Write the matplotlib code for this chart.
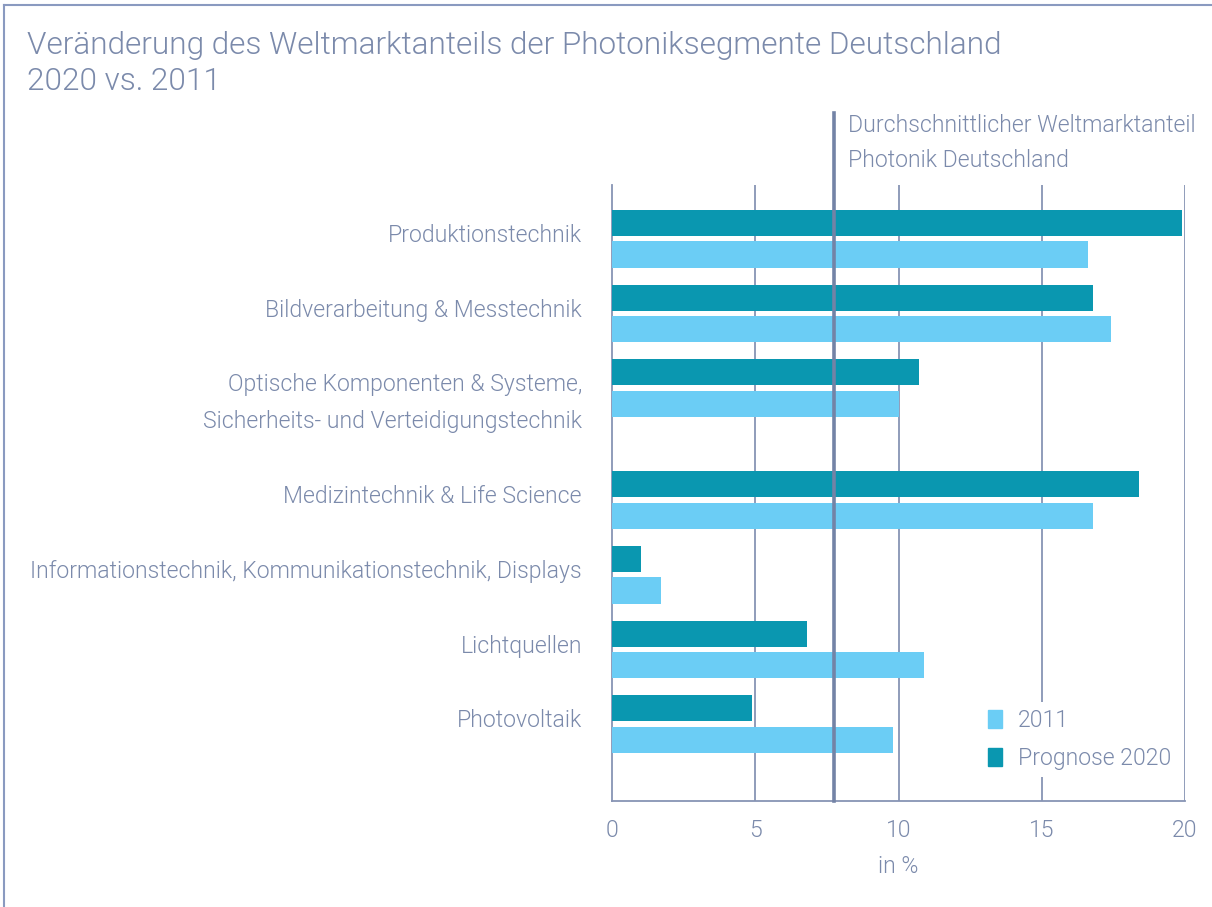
import numpy as np
import matplotlib.pyplot as plt
from matplotlib.lines import Line2D
from matplotlib.patches import Patch

plt.rcParams["font.family"] = ["Roboto", "DejaVu Sans"]
plt.rcParams["font.weight"] = 300
plt.rcParams["axes.labelweight"] = 300

categories = [
    "Produktionstechnik",
    "Bildverarbeitung & Messtechnik",
    "Optische Komponenten & Systeme,\nSicherheits- und Verteidigungstechnik",
    "Medizintechnik & Life Science",
    "Informationstechnik, Kommunikationstechnik, Displays",
    "Lichtquellen",
    "Photovoltaik",
]
share_2020 = [19.9, 16.8, 10.7, 18.4, 1.0, 6.8, 4.9]
share_2011 = [16.6, 17.4, 10.0, 16.8, 1.7, 10.9, 9.8]
avg_share = 7.75
xticks = [0, 5, 10, 15, 20]

TEXT = "#7b8aab"
GRID = "#8794b4"
DARK = "#0a97b0"
LIGHT = "#6bcdf5"
FS = 16.6

# third category takes extra space for its two-line label
gaps = [1, 1, 1.5, 1, 1, 1]
ypos = np.concatenate([[0], np.cumsum(gaps)])

fig = plt.figure(figsize=(12.12, 9.07), dpi=100)
ax = fig.add_axes([612 / 1212, 1 - 801 / 907, (1185 - 612) / 1212, (801 - 185) / 907])

ax.barh(ypos - 0.21, share_2020, height=0.35, color=DARK, zorder=3, label="Prognose 2020")
ax.barh(ypos + 0.21, share_2011, height=0.35, color=LIGHT, zorder=3, label="2011")

ax.set_xlim(0, 20)
ax.set_ylim(ypos[-1] + 1.03, -0.72)
ax.set_xticks(xticks)
ax.set_yticks([])
for x in xticks[1:]:
    ax.axvline(x, color=GRID, lw=1.3, zorder=1)
for side in ["top", "right"]:
    ax.spines[side].set_visible(False)
for side in ["left", "bottom"]:
    ax.spines[side].set_color(GRID)
    ax.spines[side].set_linewidth(1.3)
ax.tick_params(axis="x", length=0, pad=13, labelsize=FS, labelcolor=TEXT)
ax.set_xlabel("in %", fontsize=FS, color=TEXT, labelpad=9, fontweight=300)

# category labels
for y, cat in zip(ypos, categories):
    for i, line in enumerate(cat.split("\n")):
        ax.text(-1.05, y - 0.045 + i * 0.49, line, ha="right", va="center",
                fontsize=FS, color=TEXT, clip_on=False)

# average line extends above the plot
ax.axvline(avg_share, ymin=0, ymax=1.117, color="#7383a6", lw=2.6, zorder=4, clip_on=False)
ax.text(avg_share + 0.5, -1.52, "Durchschnittlicher Weltmarktanteil", fontsize=FS,
        color=TEXT, va="center", ha="left", clip_on=False)
ax.text(avg_share + 0.5, -1.05, "Photonik Deutschland", fontsize=FS,
        color=TEXT, va="center", ha="left", clip_on=False)

handles = [Patch(color=LIGHT, label="2011"), Patch(color=DARK, label="Prognose 2020")]
leg = ax.legend(handles=handles, loc="lower right", bbox_to_anchor=(1.008, 0.02),
                fontsize=FS, frameon=True, handlelength=0.6, handleheight=0.8,
                handletextpad=0.7, labelspacing=0.65, borderpad=0.3)
leg.get_frame().set_facecolor("white")
leg.get_frame().set_edgecolor("none")
leg.get_frame().set_alpha(1)
for t in leg.get_texts():
    t.set_color(TEXT)

fig.text(27 / 1212, 1 - 46 / 907, "Veränderung des Weltmarktanteils der Photoniksegmente Deutschland",
         fontsize=22.7, color=TEXT, va="center", ha="left")
fig.text(27 / 1212, 1 - 82 / 907, "2020 vs. 2011", fontsize=22.7, color=TEXT, va="center", ha="left")

# outer frame lines
fig.add_artist(Line2D([4 / 1212, 1], [1 - 5 / 907, 1 - 5 / 907], color="#8a9ac0", lw=1.5))
fig.add_artist(Line2D([4 / 1212, 4 / 1212], [0, 1 - 5 / 907], color="#8a9ac0", lw=1.5))

fig.savefig("out.png", dpi=100)
